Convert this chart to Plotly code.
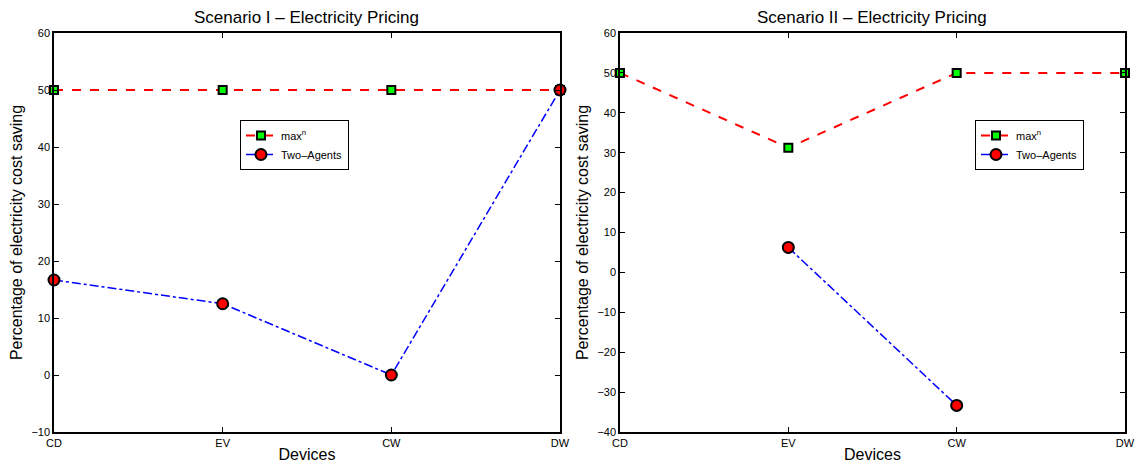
import plotly.graph_objects as go

categories = ["CD", "EV", "CW", "DW"]
s1_max = [50, 50, 50, 50]
s1_two = [16.67, 12.5, 0, 50]
s2_max = [50, 31.25, 50, 50]
s2_two = [None, 6.25, -33.33, None]
y1_ticks = [-10, 0, 10, 20, 30, 40, 50, 60]
y2_ticks = [-40, -30, -20, -10, 0, 10, 20, 30, 40, 50, 60]

FONT = "Liberation Sans, Arial, Helvetica, sans-serif"

fig = go.Figure()

def add_pair(xa, ya, leg, ymax, ytwo):
    fig.add_trace(go.Scatter(
        x=[0, 1, 2, 3], y=ymax, mode="lines+markers", name="max<sup>n</sup>",
        xaxis=xa, yaxis=ya, legend=leg,
        line=dict(color="#ff0000", width=2, dash="dash"),
        marker=dict(symbol="square", size=8, color="#00ff00", line=dict(color="black", width=2)),
    ))
    fig.add_trace(go.Scatter(
        x=[0, 1, 2, 3], y=ytwo, mode="lines+markers", name="Two\u2013Agents",
        xaxis=xa, yaxis=ya, legend=leg,
        line=dict(color="#0000ff", width=1.5, dash="dashdot"),
        marker=dict(symbol="circle", size=11, color="#ff0000", line=dict(color="black", width=2)),
        connectgaps=False,
    ))

add_pair("x", "y", "legend", s1_max, s1_two)
add_pair("x2", "y2", "legend2", s2_max, s2_two)

axis_common = dict(
    showline=True, linecolor="black", linewidth=1.5, mirror="ticks",
    ticks="inside", ticklen=5, tickcolor="black", tickwidth=1,
    showgrid=False, zeroline=False, automargin=False,
    tickfont=dict(family=FONT, size=11, color="black"),
)

ydom = [36 / 468, 435 / 468]
TITLE_FONT = dict(family=FONT, size=16, color="black")

fig.update_layout(
    width=1137, height=468,
    margin=dict(l=0, r=0, t=0, b=0, autoexpand=False),
    paper_bgcolor="white", plot_bgcolor="white",
    font=dict(family=FONT, color="black"),
    xaxis=dict(domain=[54 / 1137, 560 / 1137], range=[0, 3], tickvals=[0, 1, 2, 3],
               ticktext=categories, anchor="y",
               title=dict(text="Devices", font=TITLE_FONT, standoff=1), **axis_common),
    yaxis=dict(domain=ydom, range=[-10, 60], tickvals=y1_ticks, anchor="x",
               title=dict(text="Percentage of electricity cost saving", font=TITLE_FONT, standoff=5),
               **axis_common),
    xaxis2=dict(domain=[620 / 1137, 1125 / 1137], range=[0, 3], tickvals=[0, 1, 2, 3],
                ticktext=categories, anchor="y2",
                title=dict(text="Devices", font=TITLE_FONT, standoff=1), **axis_common),
    yaxis2=dict(domain=ydom, range=[-40, 60], tickvals=y2_ticks, anchor="x2",
                title=dict(text="Percentage of electricity cost saving", font=TITLE_FONT, standoff=5),
                **axis_common),
    legend=dict(x=240 / 1137, y=1 - 120 / 468, xanchor="left", yanchor="top",
                bordercolor="black", borderwidth=1, bgcolor="white",
                font=dict(family=FONT, size=11), tracegroupgap=0, itemwidth=30),
    legend2=dict(x=975 / 1137, y=1 - 120 / 468, xanchor="left", yanchor="top",
                 bordercolor="black", borderwidth=1, bgcolor="white",
                 font=dict(family=FONT, size=11), tracegroupgap=0, itemwidth=30),
    annotations=[
        dict(text="Scenario I \u2013 Electricity Pricing", x=306 / 1137, y=1 - 18 / 468,
             xref="paper", yref="paper", showarrow=False, font=dict(family=FONT, size=17),
             xanchor="center", yanchor="middle"),
        dict(text="Scenario II \u2013 Electricity Pricing", x=872 / 1137, y=1 - 18 / 468,
             xref="paper", yref="paper", showarrow=False, font=dict(family=FONT, size=17),
             xanchor="center", yanchor="middle"),
    ],
)

for tr in fig.data:
    tr.cliponaxis = False

fig.write_html("out.html", config={"displayModeBar": False},
               post_script="document.body.style.margin='0';")
